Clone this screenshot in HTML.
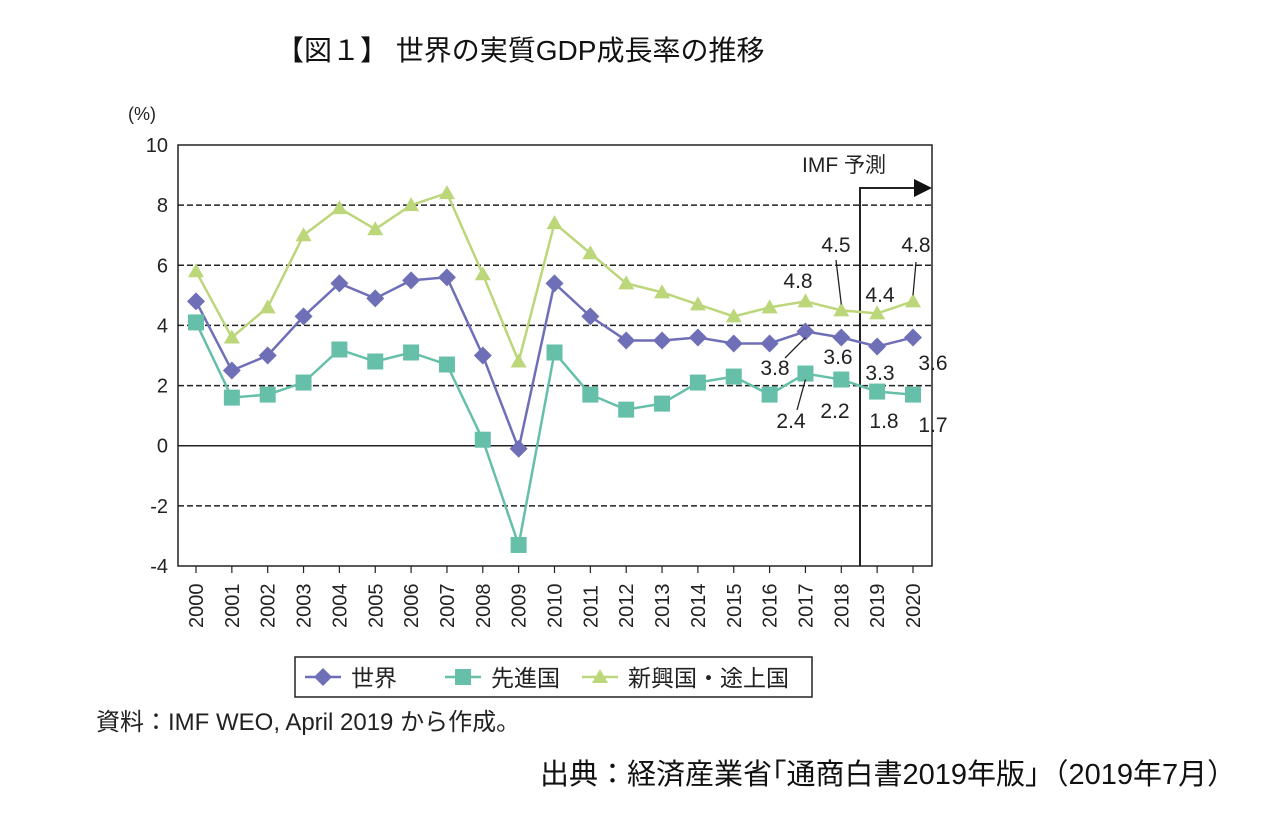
<!DOCTYPE html>
<html><head><meta charset="utf-8"><style>
body{margin:0;background:#fff;width:1280px;height:831px;overflow:hidden;font-family:"Liberation Sans","Noto Sans CJK JP",sans-serif}
svg text{font-family:"Liberation Sans","Noto Sans CJK JP",sans-serif}
</style></head><body>
<svg width="1280" height="831">
<text x="276" y="60" font-size="28" fill="#111">【図１】 世界の実質GDP成長率の推移</text>
<text x="128" y="120" font-size="18" fill="#222">(%)</text>
<g id="grid"></g>
<g id="axes"></g>
<g id="series"></g>
<g id="labels" fill="#222"></g>
<g>
<rect x="295" y="657" width="517" height="40" fill="#fff" stroke="#222" stroke-width="1.5"/>
<g id="legend"></g>
</g>
<text x="96" y="730" font-size="24" fill="#222">資料：IMF WEO, April 2019 から作成。</text>
<text x="540" y="784" font-size="29" fill="#111">出典：経済産業省｢通商白書2019年版｣（2019年7月）</text>
</svg>
<script>
const years=[2000,2001,2002,2003,2004,2005,2006,2007,2008,2009,2010,2011,2012,2013,2014,2015,2016,2017,2018,2019,2020];
const world=[4.8,2.5,3.0,4.3,5.4,4.9,5.5,5.6,3.0,-0.1,5.4,4.3,3.5,3.5,3.6,3.4,3.4,3.8,3.6,3.3,3.6];
const advanced=[4.1,1.6,1.7,2.1,3.2,2.8,3.1,2.7,0.2,-3.3,3.1,1.7,1.2,1.4,2.1,2.3,1.7,2.4,2.2,1.8,1.7];
const emerging=[5.8,3.6,4.6,7.0,7.9,7.2,8.0,8.4,5.7,2.8,7.4,6.4,5.4,5.1,4.7,4.3,4.6,4.8,4.5,4.4,4.8];
const yTicks=[10,8,6,4,2,0,-2,-4];
const NS="http://www.w3.org/2000/svg";
const L=178,R=932,T=145,B=566;
const x=i=>196+i*(913-196)/(years.length-1);
const y=v=>T+(10-v)*(B-T)/14;
function mk(tag,attrs,parent,text){const e=document.createElementNS(NS,tag);for(const k in attrs)e.setAttribute(k,attrs[k]);if(text!==undefined)e.textContent=text;document.getElementById(parent).appendChild(e);return e;}
yTicks.forEach(v=>{
 if(v!==10&&v!==-4){const g=mk('line',{x1:L,x2:R,y1:y(v),y2:y(v),stroke:'#222','stroke-width':1.5,'stroke-dasharray':v===0?'':'6,3'},'grid');
 
 }
 const t=mk('text',{x:L-10,y:y(v)+7,'text-anchor':'end','font-size':20,fill:'#222'},'axes',String(v));
 
 
});
const fr=mk('rect',{x:L,y:T,width:R-L,height:B-T,fill:'none',stroke:'#222','stroke-width':1.5},'axes');


years.forEach((yr,i)=>{
 mk('line',{x1:x(i),x2:x(i),y1:B,y2:B+7,stroke:'#222','stroke-width':1.2},'axes');
 const t=mk('text',{transform:`translate(${x(i)+7},${B+62}) rotate(-90)`,'font-size':20,fill:'#222'},'axes',String(yr));
 
 
});
const fb=mk('path',{d:`M860 ${B} V188 H922`,fill:'none',stroke:'#222','stroke-width':2},'axes');


mk('polygon',{points:'914,179 932,188 914,197',fill:'#111'},'axes');
const ft=mk('text',{x:802,y:172,'font-size':21,fill:'#222'},'axes','IMF 予測');


function marker(type,cx,cy,color,parent){
 if(type==='d')return mk('polygon',{points:`${cx},${cy-9} ${cx+9},${cy} ${cx},${cy+9} ${cx-9},${cy}`,fill:color},parent);
 if(type==='s')return mk('rect',{x:cx-8,y:cy-8,width:16,height:16,fill:color},parent);
 return mk('polygon',{points:`${cx},${cy-8} ${cx+8},${cy+6} ${cx-8},${cy+6}`,fill:color},parent);
}
const series=[[emerging,'#bcd67a','t','emerging'],[world,'#6f6fb8','d','world'],[advanced,'#66bfa8','s','advanced']];
series.forEach(([d,c,m,n])=>{
 const p=mk('polyline',{points:d.map((v,i)=>x(i)+','+y(v)).join(' '),fill:'none',stroke:c,'stroke-width':2.5},'series');
 
 
 d.forEach((v,i)=>{const e=marker(m,x(i),y(v),c,'series');
 
 });
});
// [series, index, label centre x, baseline y, leader line [x1,y1] or null]
const lab=[[emerging,17,798,288,null],[emerging,18,836,252,[836,260]],[emerging,19,880,302,null],[emerging,20,916,252,[916,262]],
 [world,17,775,375,[785,358]],[world,18,838,364,null],[world,19,880,380,null],[world,20,933,370,null],
 [advanced,17,791,428,[797,410]],[advanced,18,835,418,null],[advanced,19,884,428,null],[advanced,20,933,432,null]];
lab.forEach(([d,i,lx,ly,ln])=>{
 const t=mk('text',{x:lx,y:ly,'font-size':21,'text-anchor':'middle',fill:'#222'},'labels',d[i].toFixed(1));
 
 
 if(ln){const py=y(d[i]);mk('line',{x1:ln[0],y1:ln[1],x2:x(i),y2:py+(ln[1]<py?-6:6),stroke:'#222','stroke-width':1.3},'labels');}
});
const leg=[['世界','#6f6fb8','d',305],['先進国','#66bfa8','s',445],['新興国・途上国','#bcd67a','t',582]];
leg.forEach(([n,c,m,lx])=>{
 mk('line',{x1:lx,x2:lx+36,y1:677,y2:677,stroke:c,'stroke-width':2.5},'legend');
 marker(m,lx+18,677,c,'legend');
 const t=mk('text',{x:lx+46,y:686,'font-size':23,fill:'#222'},'legend',n);
 
 
});
</script>
</body></html>
